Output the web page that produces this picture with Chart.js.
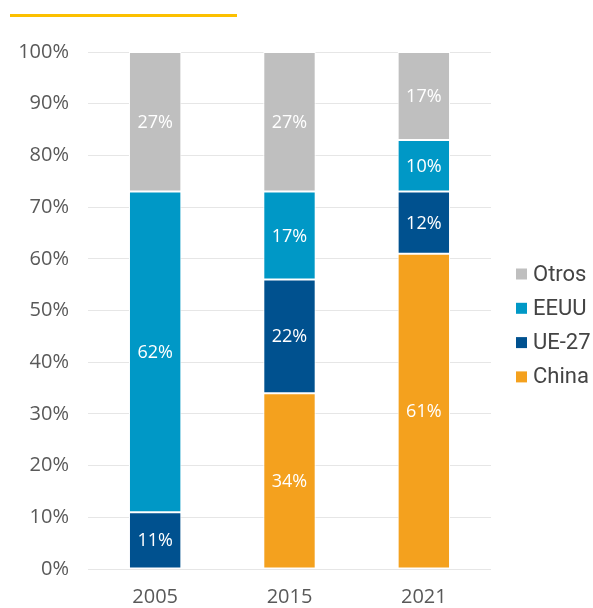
<!DOCTYPE html>
<html>
<head>
<meta charset="utf-8">
<script src="https://cdn.jsdelivr.net/npm/chart.js@4"></script>
<style>
  body { margin: 0; background: #fff; }
  #wrap { position: relative; width: 593px; height: 608px; }
  #topline { position: absolute; left: 10px; top: 14px; width: 227px; height: 3px; background: #fcc000; }
  canvas { display: block; }
</style>
</head>
<body>
<div id="wrap">
  <div id="topline"></div>
  <canvas id="chart" width="593" height="608"></canvas>
</div>
<script>
const years = ['2005', '2015', '2021']
const china = [0, 34, 61]
const ue27 = [11, 22, 12]
const eeuu = [62, 17, 10]
const otros = [27, 27, 17]
const yTicks = [0, 10, 20, 30, 40, 50, 60, 70, 80, 90, 100]

const fontFamily = "'Open Sans', 'Noto Sans', sans-serif"

// white value labels in the middle of each segment
const segmentLabels = {
  id: 'segmentLabels',
  afterDatasetsDraw(chart) {
    const ctx = chart.ctx
    ctx.save()
    ctx.fillStyle = '#ffffff'
    ctx.font = '18px ' + fontFamily
    ctx.textAlign = 'center'
    ctx.textBaseline = 'middle'
    chart.data.datasets.forEach((ds, i) => {
      const meta = chart.getDatasetMeta(i)
      meta.data.forEach((bar, j) => {
        const v = ds.data[j]
        if (!v) return
        const p = bar.getProps(['x', 'y', 'base'], true)
        ctx.fillText(v + '%', p.x, (p.y + p.base) / 2 + 1)
      })
    })
    ctx.restore()
  }
}

// legend on the right, top series first
const sideLegend = {
  id: 'sideLegend',
  afterDraw(chart) {
    const ctx = chart.ctx
    const x = chart.chartArea.right + 25
    let y = 274
    ctx.save()
    ctx.font = '22px Roboto, sans-serif'
    ctx.textBaseline = 'middle'
    chart.data.datasets.slice().reverse().forEach(ds => {
      ctx.fillStyle = ds.backgroundColor
      ctx.fillRect(x, y - 5.5, 11, 11)
      ctx.fillStyle = '#444444'
      ctx.fillText(ds.label, x + 17, y + 1)
      y += 34.3
    })
    ctx.restore()
  }
}

const ctx = document.getElementById('chart').getContext('2d')
const chart = new Chart(ctx, {
  type: 'bar',
  plugins: [segmentLabels, sideLegend],
  data: {
    labels: years,
    datasets: [
      { label: 'China', data: china, backgroundColor: '#f4a11e' },
      { label: 'UE-27', data: ue27, backgroundColor: '#00518f' },
      { label: 'EEUU', data: eeuu, backgroundColor: '#0098c6' },
      { label: 'Otros', data: otros, backgroundColor: '#bfbfbf' }
    ].map(d => Object.assign(d, {
      borderColor: '#ffffff',
      borderWidth: 1,
      borderSkipped: false,
      categoryPercentage: 1,
      barPercentage: 0.39
    }))
  },
  options: {
    responsive: false,
    animation: false,
    layout: {
      padding: { top: 52, bottom: 3, left: 0, right: 102 }
    },
    scales: {
      x: {
        stacked: true,
        grid: { display: false },
        border: { display: false },
        ticks: { color: '#595959', font: { family: fontFamily, size: 20 }, padding: 8 },
        afterFit: (axis) => { axis.height = 36 }
      },
      y: {
        stacked: true,
        min: 0,
        max: 100,
        afterBuildTicks: (axis) => { axis.ticks = yTicks.map(v => ({ value: v })) },
        grid: { color: '#e6e6e6', drawTicks: false },
        border: { display: false },
        ticks: {
          color: '#595959',
          font: { family: fontFamily, size: 20 },
          padding: 19,
          callback: (v) => v + '%'
        },
        afterFit: (axis) => { axis.width = 88 }
      }
    },
    plugins: {
      tooltip: { enabled: false },
      legend: { display: false }
    }
  }
})
</script>
</body>
</html>
